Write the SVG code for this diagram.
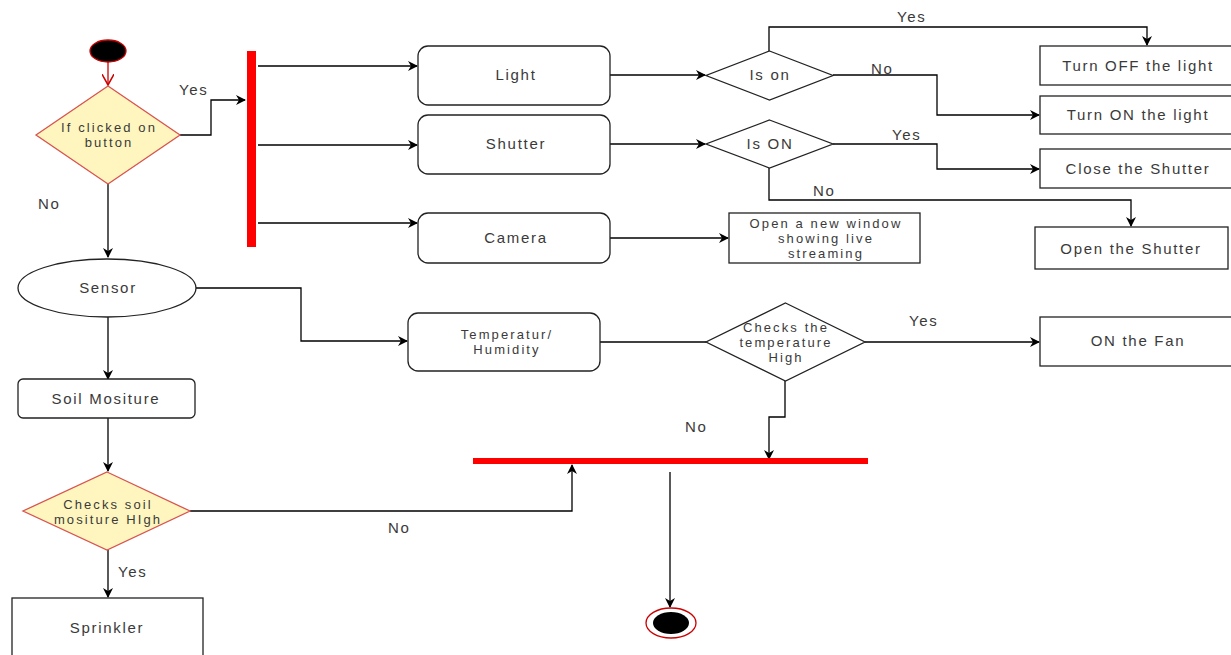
<svg xmlns="http://www.w3.org/2000/svg" width="1231" height="655" viewBox="0 0 1231 655">
<defs>
<marker id="arr" viewBox="0 0 10 10" refX="9" refY="5" markerWidth="10" markerHeight="10" markerUnits="userSpaceOnUse" orient="auto">
<path d="M0,0 L10,5 L0,10 L3,5 Z" fill="#000"/>
</marker>
<marker id="open" viewBox="0 0 10 10" refX="9" refY="5" markerWidth="12" markerHeight="12" markerUnits="userSpaceOnUse" orient="auto">
<path d="M0,0 L9,5 L0,10" fill="none" stroke="#c00" stroke-width="1.3"/>
</marker>
<style>
text{font-family:"Liberation Sans",Arial,sans-serif;font-size:15px;letter-spacing:1.7px;fill:#3a3a3a;text-anchor:middle}
text.m{font-size:13px;letter-spacing:2.1px}
.lb{text-anchor:start}
.box{fill:#fff;stroke:#222;stroke-width:1.3}
.dec{fill:#fff;stroke:#222;stroke-width:1.3}
.ydec{fill:#fff6bf;stroke:#d9534f;stroke-width:1.3}
.bar{fill:#f00}
.c{fill:none;stroke:#000;stroke-width:1.3}
</style>
</defs>
<g id="connectors">
<line x1="108" y1="62" x2="108" y2="85" stroke="#c00" stroke-width="1.3" marker-end="url(#open)"/>
<polyline class="c" points="180,135 211,135 211,100 245,100" marker-end="url(#arr)"/>
<line class="c" x1="258" y1="66" x2="417" y2="66" marker-end="url(#arr)"/>
<line class="c" x1="258" y1="145" x2="417" y2="145" marker-end="url(#arr)"/>
<line class="c" x1="258" y1="223" x2="417" y2="223" marker-end="url(#arr)"/>
<line class="c" x1="610" y1="75" x2="705" y2="75" marker-end="url(#arr)"/>
<line class="c" x1="610" y1="144" x2="705" y2="144" marker-end="url(#arr)"/>
<line class="c" x1="610" y1="238" x2="728" y2="238" marker-end="url(#arr)"/>
<polyline class="c" points="769,51 769,27 1147,27 1147,45" marker-end="url(#arr)"/>
<polyline class="c" points="833,75 937,75 937,115 1039,115" marker-end="url(#arr)"/>
<polyline class="c" points="833,144 937,144 937,169 1039,169" marker-end="url(#arr)"/>
<polyline class="c" points="769,168 769,200 1131,200 1131,226" marker-end="url(#arr)"/>
<line class="c" x1="108" y1="184" x2="108" y2="257" marker-end="url(#arr)"/>
<polyline class="c" points="195,288 301,288 301,341 407,341" marker-end="url(#arr)"/>
<line class="c" x1="600" y1="342" x2="706" y2="342"/>
<line class="c" x1="865" y1="342" x2="1039" y2="342" marker-end="url(#arr)"/>
<polyline class="c" points="785,381 785,417 769,417 769,459" marker-end="url(#arr)"/>
<line class="c" x1="108" y1="317" x2="108" y2="379" marker-end="url(#arr)"/>
<line class="c" x1="108" y1="418" x2="108" y2="471" marker-end="url(#arr)"/>
<polyline class="c" points="190,511 572,511 572,465" marker-end="url(#arr)"/>
<line class="c" x1="108" y1="550" x2="108" y2="597" marker-end="url(#arr)"/>
<line class="c" x1="670" y1="472" x2="670" y2="607" marker-end="url(#arr)"/>
<text class="lb" x="179" y="95">Yes</text>
<text class="lb" x="38" y="209">No</text>
<text class="lb" x="897" y="22">Yes</text>
<text class="lb" x="871" y="74">No</text>
<text class="lb" x="892" y="140">Yes</text>
<text class="lb" x="813" y="196">No</text>
<text class="lb" x="909" y="326">Yes</text>
<text class="lb" x="685" y="432">No</text>
<text class="lb" x="388" y="533">No</text>
<text class="lb" x="118" y="577">Yes</text>
</g>
<g id="start"><ellipse cx="108" cy="51" rx="18" ry="11" fill="#000" stroke="#c00" stroke-width="1.3"/></g>
<g id="clicked"><polygon class="ydec" points="108,86 180,135 108,184 36,135"/><text class="m" x="109" y="132">If clicked on</text><text class="m" x="109" y="147">button</text></g>
<g id="fork"><rect class="bar" x="247" y="51" width="9" height="196"/></g>
<g id="light"><rect class="box" x="418" y="46" width="192" height="59" rx="10"/><text x="516" y="80">Light</text></g>
<g id="shutter"><rect class="box" x="418" y="115" width="192" height="59" rx="10"/><text x="516" y="149">Shutter</text></g>
<g id="camera"><rect class="box" x="418" y="213" width="192" height="50" rx="10"/><text x="516" y="243">Camera</text></g>
<g id="ison"><polygon class="dec" points="769.5,51 833,75.5 769.5,100 706,75.5"/><text x="770" y="80">Is on</text></g>
<g id="isON"><polygon class="dec" points="769.5,120 833,144 769.5,168 706,144"/><text x="770" y="149">Is ON</text></g>
<g id="window"><rect class="box" x="729" y="213" width="191" height="50"/><text class="m" x="826" y="228">Open a new window</text><text class="m" x="826" y="243">showing live</text><text class="m" x="826" y="258">streaming</text></g>
<g id="turnoff"><rect class="box" x="1040" y="46" width="195" height="39"/><text x="1138" y="71">Turn OFF the light</text></g>
<g id="turnon"><rect class="box" x="1040" y="96" width="195" height="38"/><text x="1138" y="120">Turn ON the light</text></g>
<g id="close"><rect class="box" x="1040" y="149" width="195" height="39"/><text x="1138" y="174">Close the Shutter</text></g>
<g id="openshutter"><rect class="box" x="1035" y="227" width="193" height="42"/><text x="1131" y="254">Open the Shutter</text></g>
<g id="sensor"><ellipse class="box" cx="107" cy="288" rx="89" ry="29"/><text x="108" y="293">Sensor</text></g>
<g id="temp"><rect class="box" x="408" y="313" width="192" height="58" rx="10"/><text class="m" x="507" y="339">Temperatur/</text><text class="m" x="507" y="354">Humidity</text></g>
<g id="checktemp"><polygon class="dec" points="785.5,303 865,342 785.5,381 706,342"/><text class="m" x="786" y="332">Checks the</text><text class="m" x="786" y="347">temperature</text><text class="m" x="786" y="362">High</text></g>
<g id="fan"><rect class="box" x="1040" y="317" width="195" height="49"/><text x="1138" y="346">ON the Fan</text></g>
<g id="join"><rect class="bar" x="473" y="458" width="395" height="6"/></g>
<g id="soil"><rect class="box" x="18" y="379" width="177" height="39" rx="5"/><text x="106" y="404">Soil Mositure</text></g>
<g id="checksoil"><polygon class="ydec" points="107,472 190,511 107,550 23,511"/><text class="m" x="108" y="509">Checks soil</text><text class="m" x="108" y="524">mositure HIgh</text></g>
<g id="sprinkler"><rect class="box" x="12" y="598" width="191" height="70"/><text x="107" y="633">Sprinkler</text></g>
<g id="end"><ellipse cx="671" cy="623" rx="25" ry="15" fill="#fff" stroke="#c00" stroke-width="1.3"/><ellipse cx="671" cy="623" rx="18" ry="11" fill="#000"/></g>
</svg>
